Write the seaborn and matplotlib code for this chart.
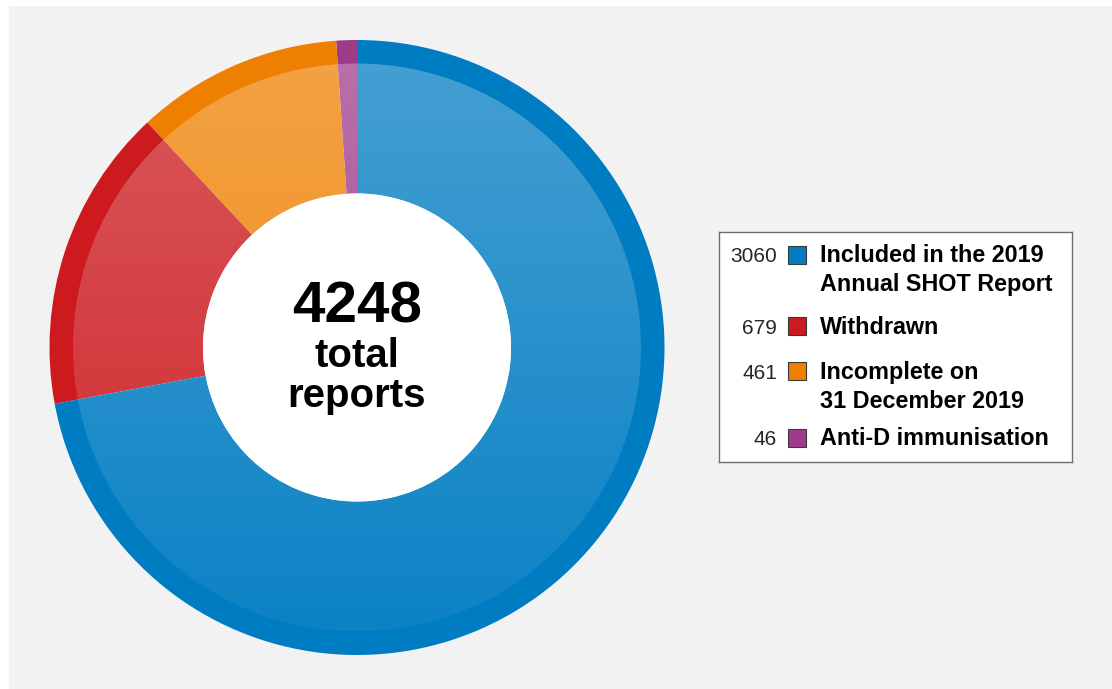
import matplotlib.pyplot as plt
import numpy as np
import seaborn as sns
from matplotlib.patches import Circle, Rectangle

# data, in legend order
COUNTS = [3060, 679, 461, 46]
LABELS = [
    "Included in the 2019\nAnnual SHOT Report",
    "Withdrawn",
    "Incomplete on\n31 December 2019",
    "Anti-D immunisation",
]
COLORS = ["#007cc2", "#cc1a1e", "#ef7f00", "#9e3a8a"]
CENTER_TEXT = ["4248", "total", "reports"]

W, H = 1112, 689


def draw(filename: str) -> None:
    """Draw the donut with its boxed legend."""
    sns.set_theme(style="white")
    plt.rcParams["font.family"] = ["Liberation Sans", "DejaVu Sans"]

    fig = plt.figure(figsize=(W / 100, H / 100), dpi=100)
    fig.patch.set_facecolor("white")
    fig.add_artist(Rectangle((9 / W, 0), 1 - 9 / W, (H - 6) / H, transform=fig.transFigure,
                             facecolor="#f2f2f2", edgecolor="none", zorder=-10))

    # donut axes, square in pixels
    cx, cy, r_px, side = 357, 347.5, 307.5, 640
    ax = fig.add_axes([(cx - side / 2) / W, (H - cy - side / 2) / H, side / W, side / H])
    ax.patch.set_alpha(0)

    vals = COUNTS[::-1]
    cols = COLORS[::-1]
    r_in = 284 / r_px
    r_hole = 154 / r_px

    # outer dark ring
    ax.pie(vals, colors=cols, radius=1.0, startangle=90, counterclock=True,
           wedgeprops=dict(width=1.0 - r_in + 0.003, edgecolor="none", linewidth=0))
    # inner lighter wedges
    ax.pie(vals, colors=cols, radius=r_in, startangle=90, counterclock=True,
           wedgeprops=dict(width=r_in - r_hole, edgecolor="none", linewidth=0))

    # vertical white sheen over the inner wedges
    grad = np.ones((256, 1, 4))
    grad[:, 0, 3] = np.linspace(0.27, 0.05, 256)
    im = ax.imshow(grad, extent=(-r_in, r_in, -r_in, r_in), origin="upper", aspect="auto",
                   interpolation="bilinear", zorder=3)
    clip = Circle((0, 0), r_in, transform=ax.transData)
    im.set_clip_path(clip)

    ax.add_patch(Circle((0, 0), r_hole, facecolor="white", edgecolor="none", zorder=4))

    lim = side / 2 / r_px
    ax.set_xlim(-lim, lim)
    ax.set_ylim(-lim, lim)
    ax.set_aspect("equal")
    ax.axis("off")

    ax.text(0, (cy - 323) / r_px, CENTER_TEXT[0], ha="center", va="baseline",
            fontsize=42, fontweight="bold", color="black", zorder=5)
    ax.text(0, (cy - 367) / r_px, CENTER_TEXT[1], ha="center", va="baseline",
            fontsize=29, fontweight="bold", color="black", zorder=5)
    ax.text(0, (cy - 407) / r_px, CENTER_TEXT[2], ha="center", va="baseline",
            fontsize=29, fontweight="bold", color="black", zorder=5)

    # legend box in local pixel units
    bl, bt, bw, bh = 719, 232, 353, 230
    lax = fig.add_axes([bl / W, (H - bt - bh) / H, bw / W, bh / H])
    lax.set_xlim(0, bw)
    lax.set_ylim(bh, 0)
    lax.set_facecolor("white")
    lax.set_xticks([])
    lax.set_yticks([])
    for sp in lax.spines.values():
        sp.set_visible(True)
        sp.set_color("#6e6e6e")
        sp.set_linewidth(1.0)

    square_y = [23, 94, 139, 206]
    baseline_y = [30, 102, 147, 213]
    line_gap = 29.5
    for n, lab, col, sy, by in zip(COUNTS, LABELS, COLORS, square_y, baseline_y):
        lax.text(58, by, str(n), ha="right", va="baseline", fontsize=15, color="#262626")
        lax.add_patch(Rectangle((69, sy - 9), 18, 18, facecolor=col, edgecolor="#3a3a3a", linewidth=0.8))
        for i, line in enumerate(lab.split("\n")):
            lax.text(101, by + i * line_gap, line, ha="left", va="baseline",
                     fontsize=16.8, fontweight="bold", color="black")

    plt.savefig(filename, dpi=100, facecolor=fig.get_facecolor())


def main() -> None:
    draw("out.png")


if __name__ == "__main__":
    main()
